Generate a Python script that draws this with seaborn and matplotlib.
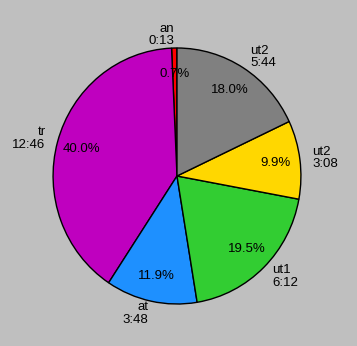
import matplotlib
matplotlib.use("Agg")
import matplotlib.pyplot as plt
import seaborn as sns

# Data (counter-clockwise from top)
names = ["an", "tr", "at", "ut1", "ut2", "ut2"]
times = ["0:13", "12:46", "3:48", "6:12", "3:08", "5:44"]
percents = [0.7, 40.0, 11.9, 19.5, 9.9, 18.0]
colors = ["#ff0000", "#bf00bf", "#1e90ff", "#32cd32", "#ffd700", "#808080"]

sns.set_style("white")
plt.rcParams["font.family"] = ["Liberation Sans", "DejaVu Sans"]

bg = "#bfbfbf"
fig = plt.figure(figsize=(3.57, 3.46), dpi=100, facecolor=bg)
W, H = 357.0, 346.0
ax = fig.add_axes([3.5 / W, -9.2 / H, 347 / W, 358.4 / H])
ax.set_facecolor(bg)

labels = [f"{n}\n{t}" for n, t in zip(names, times)]
wedges, texts, autotexts = ax.pie(
    percents,
    labels=labels,
    colors=colors,
    startangle=90,
    counterclock=True,
    autopct="%1.1f%%",
    pctdistance=0.8,
    labeldistance=1.1,
    wedgeprops=dict(edgecolor="black", linewidth=1.0),
    textprops=dict(fontsize=9.5, color="black", linespacing=1.05),
)
ax.set_aspect("auto")
ax.set_xlim(-1.4, 1.4)
ax.set_ylim(-1.4, 1.4)
ax.axis("off")

fig.savefig("out.png", dpi=100, facecolor=bg)
